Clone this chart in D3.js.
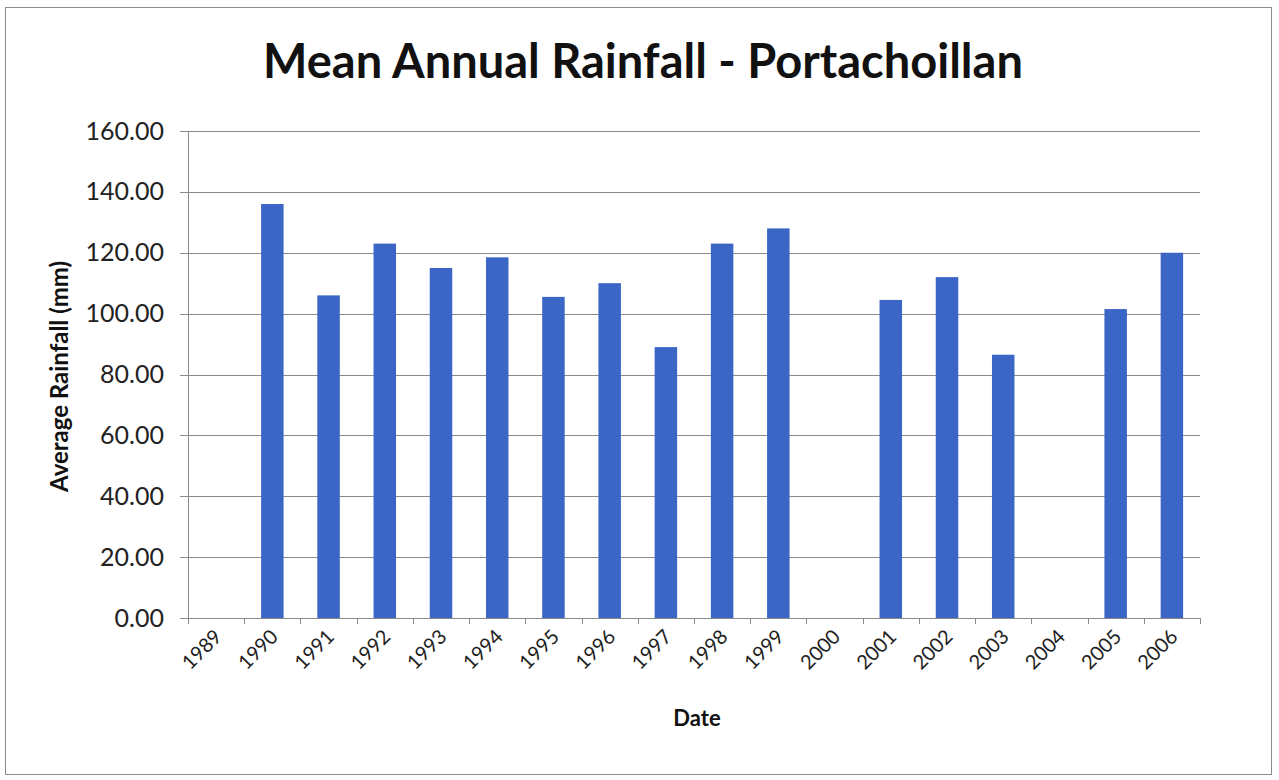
<!DOCTYPE html>
<html>
<head>
<meta charset="utf-8">
<script src="https://cdn.jsdelivr.net/npm/d3@7"></script>
<style>
  body { margin: 0; background: #fff; }
  svg { font-family: Lato, "Open Sans", "DejaVu Sans", sans-serif; }
</style>
</head>
<body>
<div id="chart"></div>
<script>
// Datos
var years = ["1989", "1990", "1991", "1992", "1993", "1994", "1995", "1996", "1997",
    "1998", "1999", "2000", "2001", "2002", "2003", "2004", "2005", "2006"];
var rainfall = [0, 136, 106, 123, 115, 118.5, 105.5, 110, 89,
    123, 128, 0, 104.5, 112, 86.5, 0, 101.5, 120];
var yTicks = [0, 20, 40, 60, 80, 100, 120, 140, 160];

var svgWidth = 1279;
var svgHeight = 780;

var margin = { top: 131, right: 79, bottom: 162, left: 188 };
var width = svgWidth - margin.left - margin.right;
var height = svgHeight - margin.top - margin.bottom;

var svg = d3.select("#chart")
    .append("svg")
    .attr("width", svgWidth)
    .attr("height", svgHeight);

// marco exterior
svg.append("rect")
    .attr("x", 5.5)
    .attr("y", 7.5)
    .attr("width", 1266)
    .attr("height", 767)
    .attr("fill", "#fff")
    .attr("stroke", "#8c8c8c");

var chartGroup = svg.append("g")
    .attr("transform", `translate(${margin.left}, ${margin.top})`);

var data = years.map((y, i) => ({ year: y, value: rainfall[i] }));

var xScale = d3.scaleBand()
    .domain(years)
    .range([0, width])
    .paddingInner(0.6)
    .paddingOuter(0.3);

var yScale = d3.scaleLinear()
    .domain([0, 160])
    .range([height, 0]);

// líneas de cuadrícula
chartGroup.append("g")
    .selectAll("line")
    .data(yTicks)
    .enter()
    .append("line")
    .attr("x1", -8)
    .attr("x2", width)
    .attr("y1", d => Math.round(yScale(d)) + 0.5)
    .attr("y2", d => Math.round(yScale(d)) + 0.5)
    .attr("stroke", "#8a8a8a")
    .attr("stroke-width", 1);

// eje y
var leftAxis = d3.axisLeft(yScale)
    .tickValues(yTicks)
    .tickFormat(d3.format(".2f"))
    .tickSize(0)
    .tickPadding(24);

var yAxis = chartGroup.append("g")
    .call(leftAxis);
yAxis.select(".domain").attr("stroke", "#8a8a8a");
yAxis.selectAll("text")
    .style("font-size", "25px")
    .style("font-family", "Lato, 'Open Sans', sans-serif")
    .attr("fill", "#222");

// barras
chartGroup.selectAll("rect.bar")
    .data(data)
    .enter()
    .append("rect")
    .attr("class", "bar")
    .attr("x", d => xScale(d.year))
    .attr("y", d => yScale(d.value))
    .attr("width", xScale.bandwidth())
    .attr("height", d => height - yScale(d.value))
    .attr("fill", "#3b66c6");

// eje x con marcas entre categorías
var step = xScale.step();
var xAxisG = chartGroup.append("g")
    .attr("transform", `translate(0, ${height})`);

xAxisG.append("line")
    .attr("x1", 0)
    .attr("x2", width)
    .attr("y1", 0.5)
    .attr("y2", 0.5)
    .attr("stroke", "#8a8a8a");

xAxisG.selectAll("line.tick")
    .data(d3.range(years.length + 1))
    .enter()
    .append("line")
    .attr("class", "tick")
    .attr("x1", i => Math.round(i * step) + 0.5)
    .attr("x2", i => Math.round(i * step) + 0.5)
    .attr("y1", 0)
    .attr("y2", 6)
    .attr("stroke", "#8a8a8a");

xAxisG.selectAll("text")
    .data(years)
    .enter()
    .append("text")
    .attr("transform", d => `translate(${xScale(d) + xScale.bandwidth() / 2 + 2}, 15) rotate(-45)`)
    .attr("text-anchor", "end")
    .attr("dy", "0.35em")
    .style("font-size", "20px")
    .attr("fill", "#222")
    .text(d => d);

// título
svg.append("text")
    .attr("x", 643)
    .attr("y", 78)
    .attr("text-anchor", "middle")
    .style("font-size", "47px")
    .style("font-weight", "bold")
    .attr("fill", "#111")
    .text("Mean Annual Rainfall - Portachoillan");

// etiqueta eje y
svg.append("text")
    .attr("transform", `translate(68, ${margin.top + height / 2 + 2}) rotate(-90)`)
    .attr("text-anchor", "middle")
    .style("font-size", "24px")
    .style("font-weight", "bold")
    .attr("fill", "#111")
    .text("Average Rainfall (mm)");

// etiqueta eje x
svg.append("text")
    .attr("x", 697)
    .attr("y", 726)
    .attr("text-anchor", "middle")
    .style("font-size", "22px")
    .style("font-weight", "bold")
    .attr("fill", "#111")
    .text("Date");
</script>
</body>
</html>
